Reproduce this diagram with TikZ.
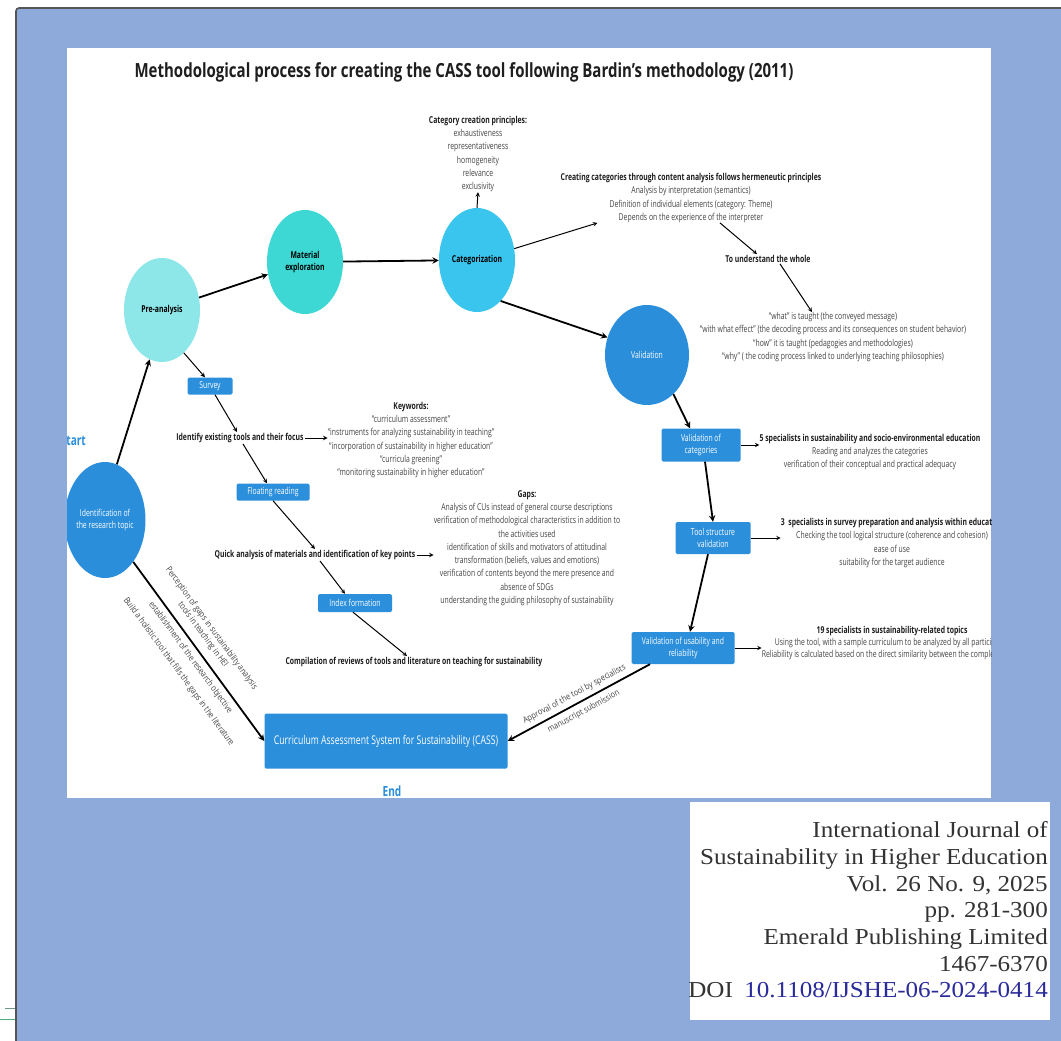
\documentclass[tikz,border=0pt]{standalone}
\usepackage{fontspec}
\setmainfont{Liberation Serif}
\newfontfamily\condfont[FakeStretch=0.72]{Open Sans}
\newfontfamily\titlefont[FakeStretch=0.77]{Open Sans}
\newfontfamily\slfont[FakeStretch=0.85]{Open Sans}
\newfontfamily\jfont[FakeStretch=1.1]{Liberation Serif}
\usetikzlibrary{shapes.geometric}

\definecolor{bgblue}{HTML}{8EAADB}
\definecolor{bordc}{HTML}{555555}
\definecolor{preA}{HTML}{8DE6E8}
\definecolor{matE}{HTML}{3ED8D4}
\definecolor{catg}{HTML}{3AC5EE}
\definecolor{valid}{HTML}{2B8EDA}
\definecolor{boxblue}{HTML}{2B8FDC}
\definecolor{notec}{HTML}{444444}
\definecolor{headc}{HTML}{1E1E1E}
\definecolor{doic}{HTML}{2A2A9A}
\definecolor{jtext}{HTML}{333333}
\definecolor{greenA}{HTML}{6A9A8A}
\definecolor{greenB}{HTML}{4CAF7A}

\newcommand{\hd}[1]{{\bfseries\color{headc}#1}}

\begin{document}
\begin{tikzpicture}[x=1pt, y=-1pt,
	circ/.style={ellipse, minimum width=76pt, minimum height=104pt, inner sep=0pt, align=center, font=\condfont\fontsize{9.5}{11.5}\selectfont},
	boxnode/.style={rectangle, rounded corners=1.5pt, fill=boxblue, text=white, align=center, inner sep=1pt, font=\condfont\fontsize{9.5}{11.5}\selectfont},
	note/.style={align=center, text=notec, inner sep=0pt, font=\condfont\fontsize{9.5}{13.3}\selectfont},
	head/.style={text=headc, inner sep=1pt, font=\condfont\bfseries\fontsize{9.5}{11.5}\selectfont},
	slnote/.style={align=center, text=notec, inner sep=0pt, font=\slfont\fontsize{8.7}{10.5}\selectfont},
	endlabel/.style={text=valid, inner sep=0pt, font=\condfont\bfseries\fontsize{14}{16}\selectfont},
	mainarr/.style={->, >=stealth, line width=1.8pt},
	thinarr/.style={->, >=stealth, line width=1pt}]

	\useasboundingbox (0,0) rectangle (1061,1041);

	% ==========================================
	% PAGE BACKGROUND
	% ==========================================
	\fill[white] (0,0) rectangle (1061,1041);
	\fill[bgblue] (16,8) rectangle (1061,1041);
	\draw[bordc, line width=1.6pt, rounded corners=3pt] (16,1050) -- (16,8) -- (1070,8);
	\draw[greenA, line width=1pt] (5,1008) -- (15,1008);
	\draw[greenB, line width=1pt] (0,1019) -- (15,1019);

	\fill[white] (67,48) rectangle (991,798);
	\fill[white] (690,802) rectangle (1050,1020);

	% ==========================================
	% DIAGRAM (clipped to the white panel)
	% ==========================================
	\begin{scope}
		\clip (67,48) rectangle (991,798);

		\node[text=headc, font=\titlefont\bfseries\fontsize{19.5}{22}\selectfont] (title) at (464,72)
			{Methodological process for creating the CASS tool following Bardin’s methodology (2011)};

		% main stages
		\node[circ, fill=valid, text=white, minimum width=80pt, minimum height=116pt] (ident) at (105,520) {Identification of\\the research topic};
		\node[circ, fill=preA, font=\condfont\bfseries\fontsize{9.5}{11.5}\selectfont] (pre) at (162,310) {Pre-analysis};
		\node[circ, fill=matE, font=\condfont\bfseries\fontsize{9.5}{11.5}\selectfont] (mat) at (305,262) {Material\\exploration};
		\node[circ, fill=catg, font=\condfont\bfseries\fontsize{9.5}{11.5}\selectfont] (cat) at (477,260) {Categorization};
		\node[circ, fill=valid, text=white, minimum width=84pt, minimum height=100pt] (valid) at (647,355) {Validation};

		\node[endlabel, anchor=east] (start) at (86,440) {Start};
		\node[endlabel] (end) at (392,791) {End};

		% boxes
		\node[boxnode, minimum width=45pt, minimum height=17pt] (survey) at (210,386) {Survey};
		\node[boxnode, minimum width=73pt, minimum height=17pt] (float) at (273,492) {Floating reading};
		\node[boxnode, minimum width=74pt, minimum height=18pt] (index) at (355,603) {Index formation};
		\node[boxnode, minimum width=79pt, minimum height=33pt] (vcat) at (701,445) {Validation of\\categories};
		\node[boxnode, minimum width=75pt, minimum height=32pt] (tool) at (713,538) {Tool structure\\validation};
		\node[boxnode, minimum width=103pt, minimum height=32pt] (usab) at (683,648) {Validation of usability and\\reliability};
		\node[boxnode, minimum width=243pt, minimum height=55pt, font=\condfont\fontsize{12}{14}\selectfont] (cass) at (386,741)
			{Curriculum Assessment System for Sustainability (CASS)};

		% notes
		\node[note] (princ) at (478,154) {\hd{Category creation principles:}\\exhaustiveness\\representativeness\\homogeneity\\relevance\\exclusivity};
		\node[note] (herm) at (691,198) {\hd{Creating categories through content analysis follows hermeneutic principles}\\Analysis by interpretation (semantics)\\Definition of individual elements (category: Theme)\\Depends on the experience of the interpreter};
		\node[head] (whole) at (768,259) {To understand the whole};
		\node[note] (quotes) at (833,337) {“what” is taught (the conveyed message)\\“with what effect” (the decoding process and its consequences on student behavior)\\“how” it is taught (pedagogies and methodologies)\\“why” ( the coding process linked to underlying teaching philosophies)};

		\node[head] (idtools) at (240,438) {Identify existing tools and their focus};
		\node[note] (kw) at (411,440) {\hd{Keywords:}\\“curriculum assessment”\\“instruments for analyzing sustainability in teaching”\\“incorporation of sustainability in higher education”\\“curricula greening”\\“monitoring sustainability in higher education”};
		\node[head] (quick) at (315,555) {Quick analysis of materials and identification of key points};
		\node[note] (gaps) at (527,548) {\hd{Gaps:}\\Analysis of CUs instead of general course descriptions\\verification of methodological characteristics in addition to\\the activities used\\identification of skills and motivators of attitudinal\\transformation (beliefs, values and emotions)\\verification of contents beyond the mere presence and\\absence of SDGs\\understanding the guiding philosophy of sustainability};
		\node[head] (compile) at (414,662) {Compilation of reviews of tools and literature on teaching for sustainability};

		\node[note] (spec5) at (870,452) {\hd{5 specialists in sustainability and socio-environmental education}\\Reading and analyzes the categories\\verification of their conceptual and practical adequacy};
		\node[note] (spec3) at (892,543) {\hd{3\ \ specialists in survey preparation and analysis within education}\\Checking the tool logical structure (coherence and cohesion)\\ease of use\\suitability for the target audience};
		\node[note, font=\condfont\fontsize{9.5}{12}\selectfont] (spec19) at (892,643) {\hd{19 specialists in sustainability-related topics}\\Using the tool, with a sample curriculum to be analyzed by all participants\\Reliability is calculated based on the direct similarity between the completed tools};

		% ==========================================
		% CONNECTORS
		% ==========================================
		\draw[mainarr] (ident.78) -- (pre.-104);
		\draw[mainarr] (pre) -- (mat);
		\draw[mainarr] (mat) -- (cat);
		\draw[mainarr] (cat.-60) -- (valid.156);
		\draw[mainarr] (valid.-56) -- ([xshift=-11pt]vcat.north);
		\draw[mainarr] ([xshift=4pt]vcat.south) -- (tool.north);
		\draw[mainarr] ([xshift=-5pt]tool.south) -- ([xshift=7pt]usab.north);
		\draw[mainarr] ([xshift=-33pt]usab.south) -- (cass.east)
			node[midway, sloped, above=4pt, slnote] {Approval of the tool by specialists}
			node[midway, sloped, below=5pt, slnote] {manuscript submission};
		\draw[mainarr] (ident.-56) -- (cass.west)
			node[pos=0.45, sloped, above=8pt, slnote] {Perception of gaps in sustainability analysis\\tools in teaching in HEI}
			node[pos=0.5, sloped, below=5pt, slnote] {establishment of the research objective}
			node[pos=0.52, sloped, below=23pt, slnote] {Build a holistic tool that fills the gaps in the literature};

		\draw[thinarr] (cat.north) -- (princ.south);
		\draw[thinarr] (cat.17) -- ([xshift=37pt]herm.south west);
		\draw[thinarr] ([xshift=29pt]herm.south) -- ([xshift=-11pt]whole.north);
		\draw[thinarr] ([xshift=12pt]whole.south) -- ([xshift=-21pt]quotes.north);

		\draw[thinarr] (pre.-63) -- ([xshift=-5pt]survey.north);
		\draw[thinarr] ([xshift=5pt]survey.south) -- ([xshift=-3pt]idtools.north);
		\draw[thinarr] (idtools.east) -- (idtools.east -| kw.west);
		\draw[thinarr] ([xshift=3pt]idtools.south) -- ([xshift=-6pt]float.north);
		\draw[thinarr] (float.south) -- (quick.north);
		\draw[thinarr] (quick.east) -- (quick.east -| gaps.west);
		\draw[thinarr] ([xshift=5pt]quick.south) -- ([xshift=-10pt]index.north);
		\draw[thinarr] ([xshift=-2pt]index.south) -- ([xshift=-7pt]compile.north);

		\draw[thinarr] (vcat.east) -- (vcat.east -| spec5.west);
		\draw[thinarr] (tool.east) -- (tool.east -| spec3.west);
		\draw[thinarr] (usab.east) -- (usab.east -| spec19.west);
	\end{scope}

	% ==========================================
	% JOURNAL INFORMATION
	% ==========================================
	\node[anchor=east, align=right, text=jtext, inner sep=0pt, font=\jfont\fontsize{22.8}{26.7}\selectfont] (journal) at (1048,910)
		{International Journal of\\Sustainability in Higher Education\\Vol. 26 No. 9, 2025\\pp. 281-300\\Emerald Publishing Limited\\1467-6370\\DOI\enspace\textcolor{doic}{10.1108/IJSHE-06-2024-0414}};

\end{tikzpicture}
\end{document}
